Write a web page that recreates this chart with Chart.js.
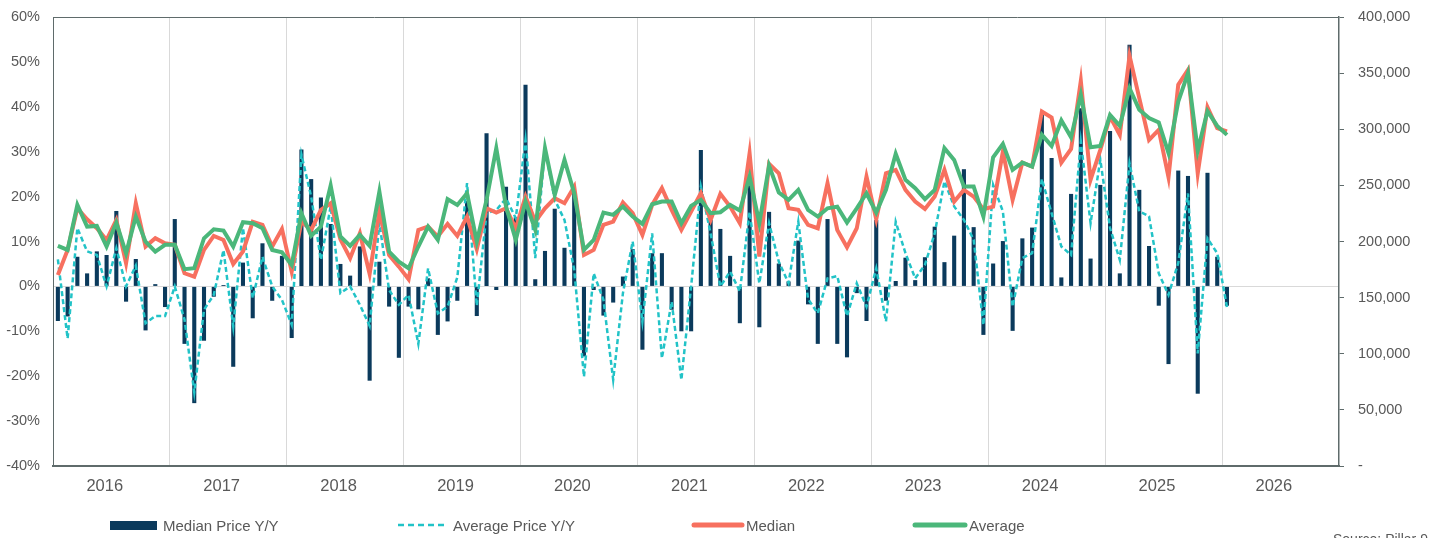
<!DOCTYPE html>
<html>
<head>
<meta charset="utf-8">
<script src="https://cdn.jsdelivr.net/npm/chart.js@4.4.1/dist/chart.umd.min.js"></script>
<style>
  html, body { margin: 0; padding: 0; background: #fff; }
  #wrap { position: relative; width: 1443px; height: 538px; overflow: hidden; font-family: "Liberation Sans", Arial, sans-serif; color: #595959; }
  #chart { position: absolute; left: 0; top: 0; }
  .lg { position: absolute; font-size: 15px; line-height: 15px; top: 518px; white-space: nowrap; }
  .sw { position: absolute; }
  #source { position: absolute; left: 1333px; top: 531px; font-size: 14px; white-space: nowrap; }
</style>
</head>
<body>
<div id="wrap">
  <canvas id="chart" width="1443" height="538"></canvas>

  <div class="sw" style="left:110px;top:521px;width:47px;height:9px;background:#0b3a5c"></div>
  <div class="lg" style="left:163px">Median Price Y/Y</div>

  <svg class="sw" style="left:398px;top:520px" width="52" height="10">
    <line x1="0" y1="5" x2="50" y2="5" stroke="#22c3c7" stroke-width="2.5" stroke-dasharray="6,4"></line>
  </svg>
  <div class="lg" style="left:453px">Average Price Y/Y</div>

  <svg class="sw" style="left:691px;top:520px" width="54" height="10">
    <line x1="3" y1="5" x2="51" y2="5" stroke="#f7705f" stroke-width="5" stroke-linecap="round"></line>
  </svg>
  <div class="lg" style="left:746px">Median</div>

  <svg class="sw" style="left:912px;top:520px" width="56" height="10">
    <line x1="3" y1="5" x2="53" y2="5" stroke="#4bb77a" stroke-width="5" stroke-linecap="round"></line>
  </svg>
  <div class="lg" style="left:969px">Average</div>

  <div id="source">Source: Pillar 9</div>
</div>

<script>
const years = ["2016", "2017", "2018", "2019", "2020", "2021", "2022", "2023", "2024", "2025", "2026"];

// Median Price Y/Y (%), monthly from Jan 2016
const medianYoY = [
  -7.7, -6.7, 6.6, 2.9, 7.8, 7.0, 16.8, -3.4, 6.1, -9.8, 0.5, -4.6,
  15.0, -12.8, -26.0, -12.1, -2.3, 0.3, -17.9, 5.3, -7.1, 9.6, -3.2, 6.8,
  -11.5, 30.5, 23.9, 19.8, 13.9, 5.0, 2.4, 8.9, -21.0, 5.5, -4.5, -15.9,
  -4.5, -5.1, 1.8, -10.8, -7.8, -3.2, 19.0, -6.6, 34.1, -0.8, 22.2, 15.4,
  44.9, 1.6, 7.9, 17.3, 8.6, 20.9, -15.6, -0.8, -6.5, -3.6, 2.2, 8.3,
  -14.1, 7.4, 7.4, -5.2, -10.0, -10.0, 30.4, 14.8, 12.8, 6.8, -8.2, 22.5,
  -9.1, 16.6, 5.1, 1.1, 10.2, -4.0, -12.8, 15.0, -12.8, -15.8, -1.5, -7.7,
  14.8, -3.2, 1.2, 6.4, 1.4, 6.5, 13.3, 5.4, 11.3, 26.1, 13.2, -10.8,
  5.1, 10.1, -9.9, 10.7, 13.1, 38.2, 28.6, 2.0, 20.6, 39.7, 6.2, 22.6,
  34.6, 2.9, 53.8, 21.5, 9.0, -4.3, -17.3, 25.8, 24.6, -23.9, 25.3, 6.6,
  -4.3
];

// Average Price Y/Y (%)
const averageYoY = [
  6.0, -11.6, 13.0, 7.8, 7.0, 0.0, 8.5, 0.0, 4.6, -8.2, -6.6, -6.6,
  0.0, -7.4, -23.6, -5.2, -1.9, 8.1, -8.9, 13.0, -2.6, 6.6, 0.0, -3.0,
  -8.5, 29.3, 20.0, 5.9, 17.8, -1.5, 0.0, -4.1, -8.8, 14.1, -0.8, -4.1,
  -1.9, -12.8, 4.0, -6.0, -4.5, 2.0, 23.0, -4.3, 16.3, 17.0, 19.6, 15.2,
  32.6, 6.3, 30.7, 19.3, 14.8, 3.7, -20.1, 2.9, -3.0, -20.8, -1.5, 10.0,
  -7.8, 11.8, -16.0, -3.4, -20.8, 0.0, 22.2, 11.8, 0.0, 3.3, -1.1, 16.6,
  0.7, 14.1, 5.5, 0.7, 14.4, -2.8, -6.0, 1.8, 2.3, -6.6, 0.7, -4.5,
  4.0, -7.8, 14.4, 7.4, 1.8, 4.8, 11.8, 23.4, 17.8, 14.8, 10.4, -8.6,
  22.6, 16.7, -4.5, 6.3, 7.4, 23.9, 16.3, 8.9, 7.0, 32.3, 14.1, 28.2,
  13.0, 5.9, 27.4, 16.7, 15.6, 2.9, -1.9, 5.2, 20.7, -14.9, 10.7, 7.4,
  -4.6
];

// Median price ($)
const medianPrice = [
  170200, 192500, 229600, 219800, 211800, 201400, 219200, 180600, 234100, 195500, 202900, 198400,
  197000, 171700, 168700, 192500, 205000, 201400, 180000, 191000, 217500, 214800, 195500, 211200,
  173200, 217800, 210300, 228200, 234100, 202000, 185100, 207400, 171100, 226700, 188000, 177600,
  166400, 210300, 213300, 204400, 215700, 205000, 222200, 193100, 229600, 225800, 229600, 211800,
  240000, 217800, 229600, 238500, 234100, 248900, 188000, 192500, 214800, 217800, 234700, 225200,
  205900, 232600, 247500, 228200, 210300, 226700, 243000, 219200, 242400, 231100, 216300, 278700,
  186600, 269200, 260800, 229600, 228200, 214800, 211800, 251900, 210300, 194900, 211800, 257900,
  219800, 260800, 263800, 246000, 235600, 229000, 240000, 263800, 235600, 246000, 240000, 228700,
  231100, 280100, 237100, 270300, 266800, 315800, 310400, 270300, 282400, 343100, 254900, 281600,
  311300, 295000, 365400, 327700, 290500, 299500, 257300, 339600, 352900, 260800, 319700, 300900,
  298000
];

// Average price ($)
const averagePrice = [
  196100, 192500, 232600, 213300, 213900, 195500, 216900, 189500, 222200, 199900, 191000, 197000,
  197000, 175300, 176200, 202900, 210900, 209700, 195500, 217200, 216300, 211800, 192500, 190400,
  179100, 225200, 205000, 213300, 249800, 204400, 196100, 205900, 196100, 244500, 191000, 182100,
  176200, 195500, 213300, 201400, 237700, 232600, 243000, 199900, 237100, 283100, 231100, 201400,
  235600, 210300, 283100, 241500, 272700, 243000, 192500, 201400, 225800, 223700, 231100, 222200,
  215700, 233200, 235600, 235600, 216300, 231700, 237100, 225200, 226100, 232600, 227600, 257900,
  216300, 267400, 243600, 237100, 246000, 228200, 222200, 229600, 231100, 216900, 229600, 243000,
  225800, 246000, 278100, 254900, 247500, 237700, 246000, 283100, 272700, 248900, 248900, 222200,
  275100, 287000, 263800, 270300, 266800, 295000, 285200, 307800, 292800, 330700, 284000, 285200,
  312800, 303000, 336600, 317300, 309900, 306000, 278700, 324700, 350000, 281000, 316200, 303000,
  295000
];

const axisColor = "#5f6b6b";
const gridColor = "#d9d9d9";
const textColor = "#595959";

// one category per month, Jan 2016 to Dec 2026
const months = [];
years.forEach(y => {
  for (let m = 1; m <= 12; m++) months.push(y + "-" + String(m).padStart(2, "0"));
});

Chart.defaults.font.family = "'Liberation Sans', Arial, sans-serif";
Chart.defaults.color = textColor;

const topBorder = {
  id: "topBorder",
  afterDraw(chart) {
    const { ctx, chartArea: a } = chart;
    ctx.save();
    ctx.strokeStyle = axisColor;
    ctx.lineWidth = 1;
    ctx.beginPath();
    ctx.moveTo(a.left, a.top + 0.5);
    ctx.lineTo(a.right, a.top + 0.5);
    ctx.stroke();
    ctx.restore();
  }
};

// the tick padding would otherwise push the plot top down
const fixVertical = width => s => {
  s.width = width;
  s.paddingTop = 0;
  s.paddingBottom = 0;
};

new Chart(document.getElementById("chart"), {
  type: "bar",
  data: {
    labels: months,
    datasets: [
      {
        type: "line",
        label: "Average",
        data: averagePrice,
        yAxisID: "y1",
        borderColor: "#4bb77a",
        borderWidth: 4,
        pointRadius: 0,
        tension: 0,
        order: 1
      },
      {
        type: "line",
        label: "Median",
        data: medianPrice,
        yAxisID: "y1",
        borderColor: "#f7705f",
        borderWidth: 4,
        pointRadius: 0,
        tension: 0,
        order: 2
      },
      {
        type: "line",
        label: "Average Price Y/Y",
        data: averageYoY,
        yAxisID: "y",
        borderColor: "#22c3c7",
        borderWidth: 2.5,
        borderDash: [5, 3],
        pointRadius: 0,
        tension: 0,
        order: 3
      },
      {
        type: "bar",
        label: "Median Price Y/Y",
        data: medianYoY,
        yAxisID: "y",
        backgroundColor: "#0b3a5c",
        categoryPercentage: 1,
        barPercentage: 0.42,
        order: 4
      }
    ]
  },
  options: {
    responsive: false,
    animation: false,
    devicePixelRatio: 1,
    layout: { padding: { top: 17, left: 0, right: 0, bottom: 0 } },
    plugins: {
      legend: { display: false },
      tooltip: { enabled: false }
    },
    scales: {
      x: {
        offset: true,
        grid: {
          offset: true,
          drawTicks: false,
          color: ctx => (ctx.index % 12 === 0 && ctx.index > 0) ? gridColor : "transparent"
        },
        border: { color: axisColor, width: 2 },
        ticks: {
          autoSkip: false,
          maxRotation: 0,
          minRotation: 0,
          padding: 11,
          labelOffset: -1.8,
          font: { size: 16.5 },
          callback: (v, i) => (i % 12 === 5 ? years[Math.floor(i / 12)] : "")
        },
        afterFit: s => { s.height = 72; }
      },
      y: {
        position: "left",
        min: -40,
        max: 60,
        ticks: {
          stepSize: 10,
          padding: 13,
          font: { size: 14.5 },
          callback: v => v + "%"
        },
        grid: {
          drawTicks: false,
          color: ctx => (ctx.tick && ctx.tick.value === 0) ? gridColor : "transparent"
        },
        border: { color: axisColor, width: 1 },
        afterFit: fixVertical(53)
      },
      y1: {
        position: "right",
        min: 0,
        max: 400000,
        ticks: {
          stepSize: 50000,
          padding: 14,
          font: { size: 14.5 },
          callback: v => (v === 0 ? "-" : v.toLocaleString("en-US"))
        },
        grid: {
          drawOnChartArea: false,
          drawTicks: true,
          tickLength: 5,
          color: axisColor
        },
        border: { color: axisColor, width: 1.5 },
        afterFit: fixVertical(104)
      }
    }
  },
  plugins: [topBorder]
});
</script>
</body>
</html>
